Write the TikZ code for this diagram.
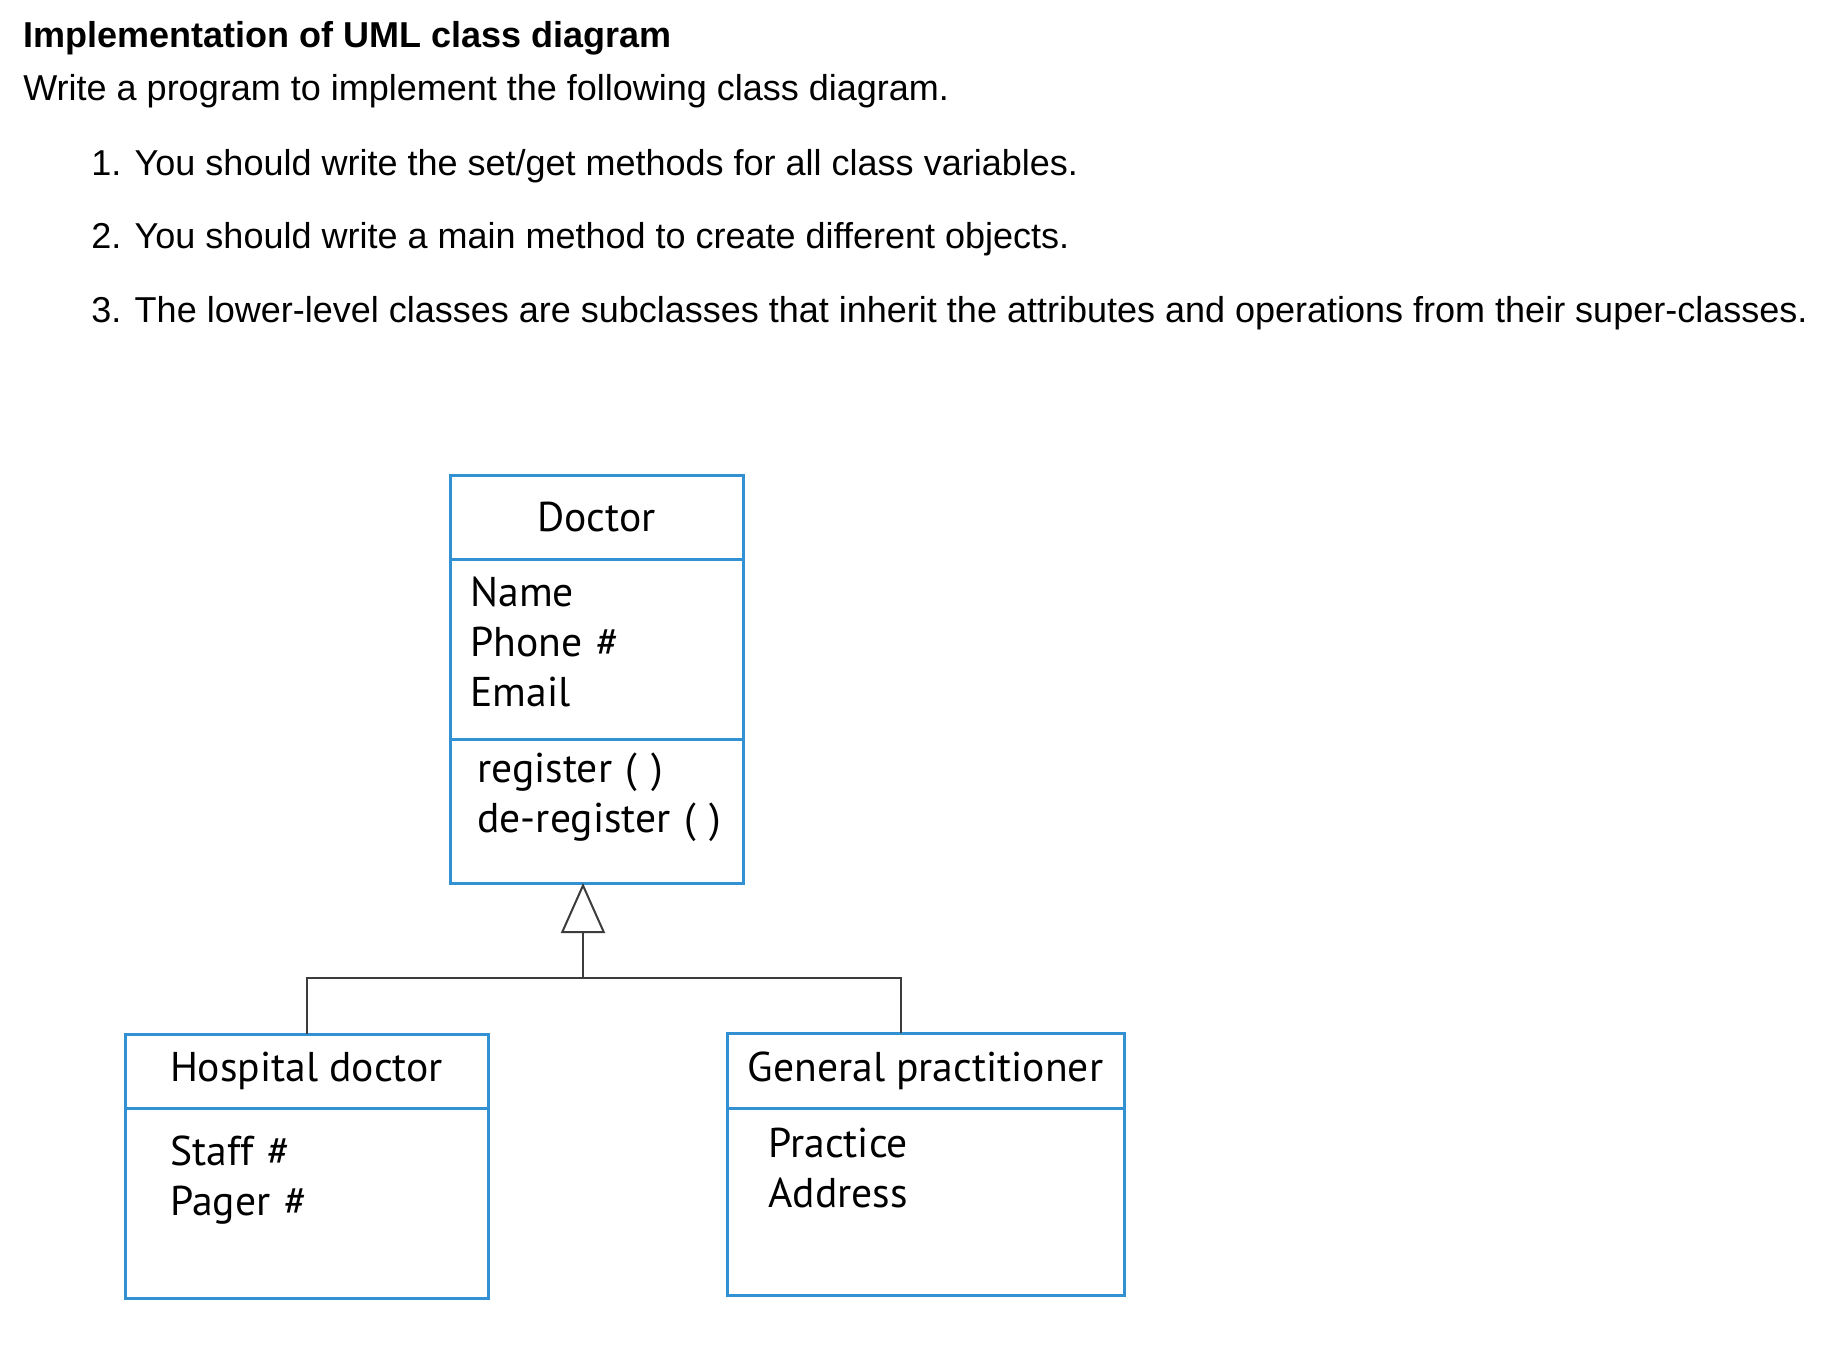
\documentclass[tikz,border=0pt]{standalone}
\usepackage{fontspec}
\setmainfont{Liberation Sans}
\newfontfamily\umlfont{PT Sans}
\usetikzlibrary{positioning,arrows.meta}
\definecolor{umlblue}{RGB}{50,145,210}
\definecolor{umlgray}{RGB}{60,60,60}

\begin{document}
\begin{tikzpicture}[x=0.5pt,y=-0.5pt,
  compart/.style={rectangle,draw=umlblue,line width=1.5pt,inner sep=0pt,outer sep=0pt,font={\umlfont\fontsize{20.8pt}{25pt}\selectfont}},
  members/.style={anchor=base west,inner sep=0pt,text width=150pt,align=left,font={\umlfont\fontsize{20.8pt}{25pt}\selectfont}},
  task/.style={anchor=base west,inner sep=0pt,font={\fontsize{18pt}{22pt}\selectfont}},
  inherit/.style={draw=umlgray,line width=1pt}]

\useasboundingbox[fill=white](0,0) rectangle (1838,1360);

\node[task,font={\bfseries\fontsize{18pt}{22pt}\selectfont}](title) at (23,47){Implementation of UML class diagram};
\node[task](intro) at (23,100){Write a program to implement the following class diagram.};
\node[task](item1) at (91,175){1. You should write the set/get methods for all class variables.};
\node[task](item2) at (91,248){2. You should write a main method to create different objects.};
\node[task](item3) at (91,322){3. The lower-level classes are subclasses that inherit the attributes and operations from their super-classes.};

% Doctor
\node[compart,anchor=north west,minimum width=146.5pt,minimum height=42pt](dochead) at (450,475){Doctor};
\node[compart,minimum width=146.5pt,minimum height=90pt](docattr)[below=0pt of dochead]{};
\node[compart,minimum width=146.5pt,minimum height=72pt](docops)[below=0pt of docattr]{};
\node[members](docfields) at ([shift={(20,47)}]docattr.north west){Name\\Phone \#\\Email};
\node[members](docmethods) at ([shift={(27,43)}]docops.north west){register ( )\\de-register ( )};

% Hospital doctor
\node[compart,anchor=north west,minimum width=181.5pt,minimum height=37pt](hosphead) at (125,1034){Hospital doctor};
\node[compart,minimum width=181.5pt,minimum height=95pt](hospattr)[below=0pt of hosphead]{};
\node[members](hospfields) at ([shift={(45,57)}]hospattr.north west){Staff \#\\Pager \#};

% General practitioner
\node[compart,anchor=north west,minimum width=198.5pt,minimum height=37.5pt](gphead) at (727,1033){General practitioner};
\node[compart,minimum width=198.5pt,minimum height=93.5pt](gpattr)[below=0pt of gphead]{};
\node[members](gpfields) at ([shift={(41,49)}]gpattr.north west){Practice\\Address};

% generalisation
\coordinate(fork) at (583,978);
\draw[inherit](hosphead.north) |- (fork);
\draw[inherit]([xshift=-12.5pt]gphead.north) |- (fork);
\draw[inherit,-{Triangle[open,width=22pt,length=25pt]}](fork) -- (fork |- docops.south);

\end{tikzpicture}
\end{document}
